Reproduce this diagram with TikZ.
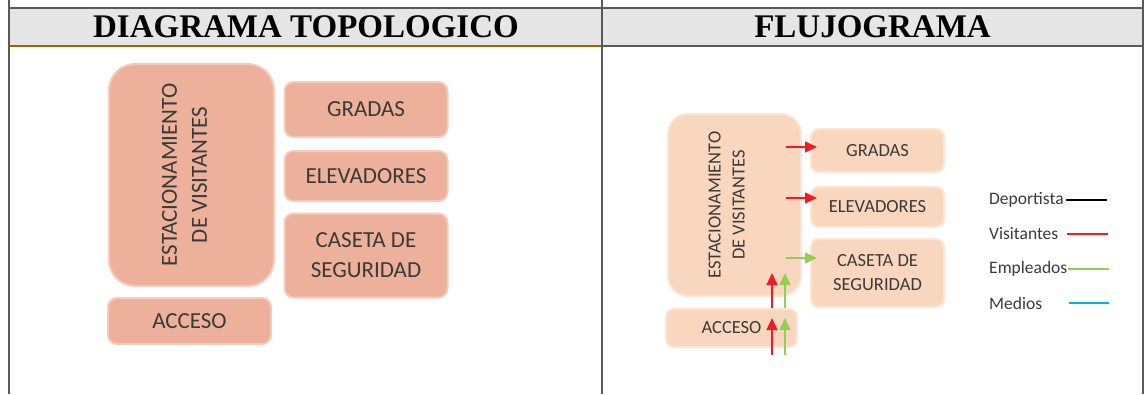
\documentclass[tikz,border=0pt]{standalone}
\usepackage{fontspec}
\setmainfont{Liberation Serif}
\newfontfamily\carlito{Carlito}
\usetikzlibrary{positioning, arrows.meta}

\definecolor{salmon}{HTML}{EDB09A}
\definecolor{peach}{HTML}{F9D7BF}
\definecolor{txtgray}{HTML}{3A3A3A}
\definecolor{rulegray}{HTML}{5A5A5A}
\definecolor{headgray}{HTML}{E6E6E6}
\definecolor{rulebrown}{HTML}{9C6400}
\definecolor{visred}{HTML}{EE1C25}
\definecolor{empgreen}{HTML}{92D050}
\definecolor{medblue}{HTML}{00B0F0}

\begin{document}
\begin{tikzpicture}[x=1pt,y=-1pt,
    head/.style={font=\bfseries\fontsize{33}{36}\selectfont, inner sep=0pt},
    topo/.style={fill=salmon, draw=salmon!65, line width=2pt, rounded corners=9pt, text=txtgray,
                 font=\carlito\fontsize{23}{30}\selectfont, align=center, inner sep=0pt},
    flujo/.style={fill=peach, draw=peach!65, line width=2pt, rounded corners=8pt, text=txtgray,
                  font=\carlito\fontsize{18.5}{24}\selectfont, align=center, inner sep=0pt},
    flow/.style={-{Triangle[length=12pt,width=11pt]}, line width=1.5pt},
    key/.style={font=\carlito\fontsize{17.5}{20}\selectfont, text=txtgray, anchor=west, inner sep=0pt},
    keyline/.style={line width=2pt}]
    \useasboundingbox (0,0) rectangle (1146,394);

    % table header
    \fill[headgray] (9,8) rectangle (1143,46);
    \draw[rulegray, line width=2pt] (9,8) -- (1143,8);
    \draw[rulegray, line width=2pt] (602,46) -- (1143,46);
    \draw[rulebrown, line width=2pt] (9,46) -- (602,46);
    \foreach \x in {9,602,1143}
        \draw[rulegray, line width=2pt] (\x,0) -- (\x,394);
    \node[head] (h1) at (306,27) {DIAGRAMA TOPOLOGICO};
    \node[head] (h2) at (872.5,27) {FLUJOGRAMA};

    % diagrama topologico
    \node[topo, rotate=90, text depth=14pt, minimum width=222pt, minimum height=165pt, rounded corners=26pt] (est1) at (191.5,175)
        {ESTACIONAMIENTO\\DE VISITANTES};
    \node[topo, minimum width=163pt, minimum height=55pt] (gra1) at (366,109.5) {GRADAS};
    \node[topo, minimum width=163pt, minimum height=50pt] (ele1) at (366,176) {ELEVADORES};
    \node[topo, minimum width=163pt, minimum height=84pt] (cas1) at (366,255.5) {CASETA DE\\SEGURIDAD};
    \node[topo, minimum width=163pt, minimum height=46pt] (acc1) at (189.5,321) {ACCESO};

    % flujograma
    \node[flujo, rotate=90, text depth=16pt, minimum width=182pt, minimum height=133pt, rounded corners=20pt] (est2) at (734.5,205)
        {ESTACIONAMIENTO\\DE VISITANTES};
    \node[flujo, minimum width=133pt, minimum height=43pt] (gra2) at (877.5,150.5) {GRADAS};
    \node[flujo, minimum width=133pt, minimum height=40pt] (ele2) at (877.5,207) {ELEVADORES};
    \node[flujo, minimum width=133pt, minimum height=68pt] (cas2) at (877.5,273) {CASETA DE\\SEGURIDAD};
    \node[flujo, minimum width=131pt, minimum height=38pt] (acc2) at (731.5,328) {ACCESO};

    \coordinate (g0) at (786,147);
    \coordinate (e0) at (786,198);
    \coordinate (c0) at (786,258);
    \coordinate (r0) at (772,355);
    \coordinate (v0) at (785,355);
    \coordinate (r1) at (772,308);
    \coordinate (v1) at (785,308);

    \draw[flow, visred] (g0) -- ([xshift=7pt]g0 -| gra2.west);
    \draw[flow, visred] (e0) -- ([xshift=7pt]e0 -| ele2.west);
    \draw[flow, empgreen] (c0) -- ([xshift=7pt]c0 -| cas2.west);
    \draw[flow, visred] (r0) -- ([yshift=-10pt]r0 |- acc2.north);
    \draw[flow, empgreen] (v0) -- ([yshift=-10pt]v0 |- acc2.north);
    \draw[flow, visred] (r1) -- ([yshift=24pt]r1 |- est2.west);
    \draw[flow, empgreen] (v1) -- ([yshift=24pt]v1 |- est2.west);

    % leyenda
    \node[key] (dep) at (989,200) {Deportista};
    \node[key] (vis) at (989,234) {Visitantes};
    \node[key] (emp) at (989,269) {Empleados};
    \node[key] (med) at (989,303) {Medios};
    \draw[keyline, black] (1066,200) -- (1107,200);
    \draw[keyline, visred] (1067,234) -- (1108,234);
    \draw[keyline, empgreen] (1068,269) -- (1109,269);
    \draw[keyline, medblue] (1069,303) -- (1109,303);
\end{tikzpicture}
\end{document}
